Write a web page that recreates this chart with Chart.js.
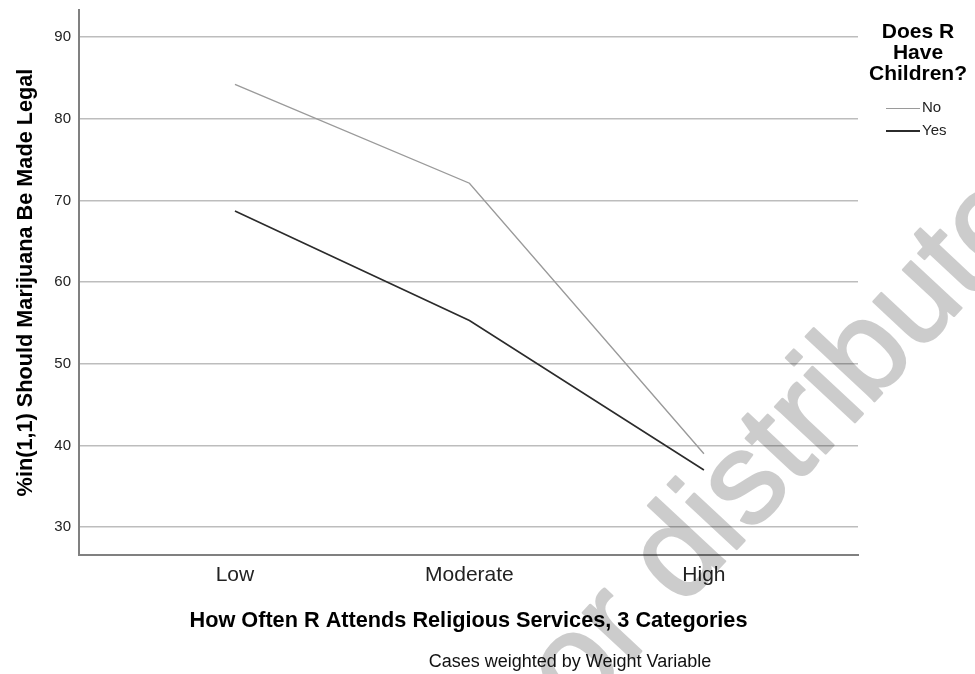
<!DOCTYPE html>
<html lang="en">
<head>
<meta charset="UTF-8">
<title>Marijuana legal by religious attendance</title>
<script src="https://cdn.jsdelivr.net/npm/chart.js"></script>
<style>
    body { margin: 0; background: #fff; }
    .wrap { position: relative; width: 975px; height: 674px; font-family: "Liberation Sans", Arial, sans-serif; }
    #chart { position: absolute; left: 0; top: 0; }
    .legend-title { position: absolute; left: 860px; top: 20px; width: 116px; text-align: center; font-weight: bold; font-size: 21px; line-height: 21px; color: #000; }
    .legend-item { position: absolute; left: 886px; font-size: 15px; color: #222; height: 18px; line-height: 18px; }
    .legend-item span.swatch { display: inline-block; width: 34px; vertical-align: middle; margin-right: 2px; }
    .note { position: absolute; left: 0; width: 1140px; top: 651px; text-align: center; font-size: 18px; color: #111; }
</style>
</head>
<body>
<div class="wrap">
    <canvas id="chart" width="975" height="674"></canvas>
    <div class="legend-title">Does R<br>Have<br>Children?</div>
    <div id="legend"></div>
    <div class="note">Cases weighted by Weight Variable</div>
</div>
<script>
const categories = ['Low', 'Moderate', 'High'];
const seriesNames = ['No', 'Yes'];
const noValues = [84.2, 72.1, 39.0];
const yesValues = [68.7, 55.3, 37.0];
const yTicks = [30, 40, 50, 60, 70, 80, 90];
const seriesColors = ['#9a9a9a', '#2b2b2b'];
const watermark = 'or distribute';

const font = '"Liberation Sans", Arial, sans-serif';

// legend
const legend = document.getElementById('legend');
seriesNames.forEach((name, i) => {
    const item = document.createElement('div');
    item.className = 'legend-item';
    item.style.top = (98 + i * 23) + 'px';
    item.innerHTML = `<span class="swatch" style="border-top: ${i ? 2 : 1.5}px solid ${seriesColors[i]}"></span>${name}`;
    legend.appendChild(item);
});

// faint diagonal text on top of the plot, drawn off-screen first so overlaps stay even
const watermarkPlugin = {
    id: 'watermark',
    afterDraw(chart) {
        const off = document.createElement('canvas');
        off.width = chart.width;
        off.height = chart.height;
        const o = off.getContext('2d');
        o.translate(578, 719);
        o.rotate(-47 * Math.PI / 180);
        o.font = '130px ' + font;
        o.fillStyle = '#000';
        o.strokeStyle = '#000';
        o.lineWidth = 2.5;
        o.lineJoin = 'round';
        o.fillText(watermark, 0, 0);
        o.strokeText(watermark, 0, 0);
        const ctx = chart.ctx;
        ctx.save();
        ctx.globalAlpha = 0.2;
        ctx.drawImage(off, 0, 0, chart.width, chart.height);
        ctx.restore();
    }
};

const toPoints = vals => vals.map((v, i) => ({ x: i, y: v }));

new Chart(document.getElementById('chart'), {
    type: 'line',
    data: {
        datasets: [
            {
                label: seriesNames[0],
                data: toPoints(noValues),
                borderColor: seriesColors[0],
                borderWidth: 1.4,
                pointRadius: 0,
                tension: 0
            },
            {
                label: seriesNames[1],
                data: toPoints(yesValues),
                borderColor: seriesColors[1],
                borderWidth: 1.6,
                pointRadius: 0,
                tension: 0
            }
        ]
    },
    options: {
        responsive: false,
        animation: false,
        layout: { padding: { top: 10, right: 117, left: 0, bottom: 0 } },
        plugins: { legend: { display: false }, tooltip: { enabled: false } },
        scales: {
            x: {
                type: 'linear',
                min: -0.665,
                max: 2.657,
                afterBuildTicks: s => { s.ticks = categories.map((c, i) => ({ value: i })); },
                afterFit: s => { s.height = 119; s.paddingLeft = 0; s.paddingRight = 0; },
                grid: { display: false, drawTicks: false },
                border: { color: '#808080', width: 2 },
                ticks: {
                    padding: 8,
                    color: '#222',
                    font: { family: font, size: 21 },
                    callback: v => categories[v] || ''
                },
                title: {
                    display: true,
                    text: 'How Often R Attends Religious Services, 3 Categories',
                    color: '#000',
                    font: { family: font, size: 21.7, weight: 'bold' },
                    padding: { top: 0, bottom: 40 }
                }
            },
            y: {
                min: 26.6,
                max: 93.3,
                afterBuildTicks: s => { s.ticks = yTicks.map(v => ({ value: v })); },
                afterFit: s => { s.width = 79; s.paddingTop = 0; s.paddingBottom = 0; },
                grid: { color: '#bdbdbd', lineWidth: 1.5, drawTicks: false },
                border: { color: '#808080', width: 2 },
                ticks: {
                    padding: 8,
                    color: '#222',
                    font: { family: font, size: 15 }
                },
                title: {
                    display: true,
                    text: '%in(1,1) Should Marijuana Be Made Legal',
                    color: '#000',
                    font: { family: font, size: 21.7, weight: 'bold' },
                    padding: { top: 13, bottom: 0 }
                }
            }
        }
    },
    plugins: [watermarkPlugin]
});
</script>
</body>
</html>
